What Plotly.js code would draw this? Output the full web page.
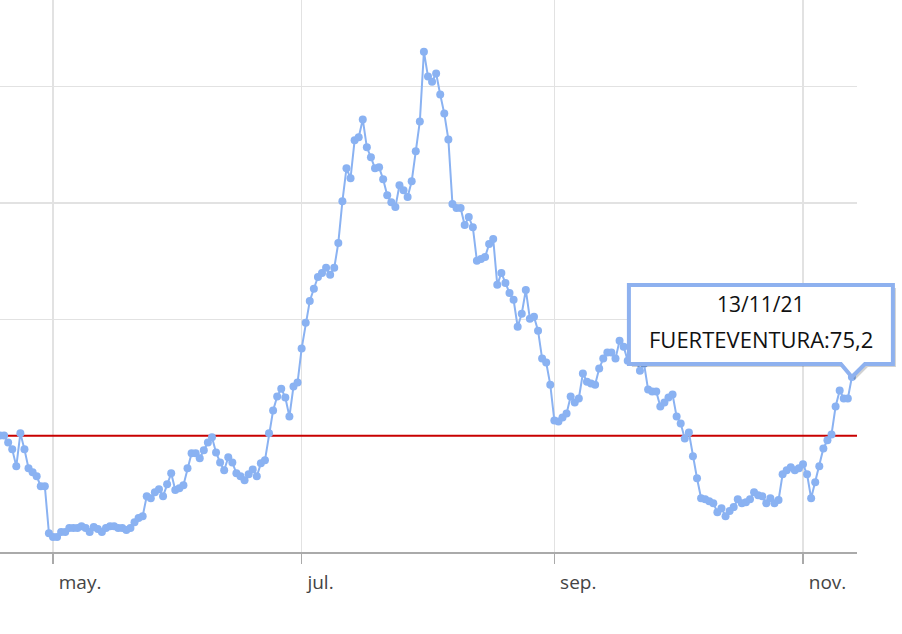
<!DOCTYPE html>
<html>
<head>
<meta charset="utf-8">
<script src="https://cdn.plot.ly/plotly-3.0.1.min.js"></script>
<style>
html, body { margin: 0; padding: 0; background: #ffffff; }
#chart { width: 902px; height: 634px; }
</style>
</head>
<body>
<div id="chart"></div>
<script>
// ---- data ----
const seriesName = 'FUERTEVENTURA';
const firstDay = [2021, 3, 18]; // 18 April 2021 (month is 0-based)
const aprValues = [50.1, 50.1, 47.1, 44.1, 36.8, 51.0, 44.1, 36.0, 34.3, 32.5, 28.3, 28.3, 8.1];
const mayValues = [6.4, 6.4, 8.6, 8.6, 10.3, 10.3, 10.3, 11.1, 10.3, 8.6, 10.7, 9.9, 8.6, 10.3, 11.1, 11.1,
                   10.3, 10.3, 9.4, 10.3, 12.8, 14.6, 15.4, 24.0, 23.1, 25.7, 27.0, 24.0, 29.1, 33.8, 26.6];
const junValues = [27.4, 28.7, 36.0, 42.4, 42.4, 40.3, 43.7, 47.1, 49.3, 42.8, 38.5, 35.1, 40.7, 38.5, 33.8,
                   32.5, 30.8, 33.4, 35.5, 32.5, 38.1, 39.4, 51.0, 60.8, 66.8, 70.2, 66.4, 58.2, 71.1, 72.8];
const julValues = [87.4, 98.5, 107.9, 113.1, 118.2, 119.9, 122.1, 119.1, 122.1, 132.8, 150.7, 164.9, 160.6,
                   176.9, 178.2, 185.9, 173.9, 169.6, 164.9, 165.3, 160.2, 153.3, 150.3, 148.2, 157.6, 155.5,
                   152.5, 159.3, 172.2, 185.0, 215.0];
const augValues = [204.3, 202.1, 205.6, 196.6, 188.4, 177.3, 149.5, 147.8, 147.8, 140.5, 143.9, 139.6, 125.1,
                   125.9, 126.8, 132.3, 134.5, 114.8, 119.9, 115.6, 111.3, 108.4, 96.8, 102.4, 112.6, 100.2,
                   101.1, 95.1, 83.1, 81.4, 71.9];
const sepValues = [56.5, 56.1, 57.8, 59.5, 66.8, 64.2, 66.0, 76.7, 73.2, 72.4, 71.9, 78.8, 83.1, 85.7, 85.7,
                   83.1, 90.8, 88.2, 82.2, 83.5, 83.1, 77.9, 80.9, 69.8, 69.0, 69.0, 62.5, 64.2, 66.4, 67.7];
const octValues = [58.2, 55.2, 48.8, 51.4, 41.1, 31.7, 23.1, 22.7, 21.8, 21.0, 17.1, 18.8, 15.4, 17.6, 19.3,
                   22.7, 21.0, 21.4, 22.7, 25.7, 24.4, 24.0, 21.0, 23.1, 21.0, 22.3, 33.4, 35.1, 36.4, 35.1, 36.0];
const novValues = [37.7, 33.4, 23.1, 30.0, 36.8, 44.5, 48.0, 50.5, 62.5, 69.4, 66.0, 66.0, 75.2];
const thresholdValue = 50;
const tickDates = ['2021-05-01', '2021-07-01', '2021-09-01', '2021-11-01'];
const tickLabels = ['may.', 'jul.', 'sep.', 'nov.'];

// ---- build series ----
const values = [].concat(aprValues, mayValues, junValues, julValues, augValues, sepValues, octValues, novValues);
const dates = values.map(function (_, i) {
  const d = new Date(Date.UTC(firstDay[0], firstDay[1], firstDay[2] + i));
  return d.toISOString().slice(0, 10);
});

const xRange = ['2021-04-18 00:00', '2021-11-14 06:00'];
const yRange = [0, 237.2];

const lastIdx = values.length - 1;
const lastDate = dates[lastIdx];
const lastValue = values[lastIdx];
const lastParts = lastDate.split('-');
const tipDate = lastParts[2] + '/' + lastParts[1] + '/' + lastParts[0].slice(2);
const tipValue = seriesName + ':' + lastValue.toFixed(1).replace('.', ',');

// anchor of the tooltip in axis-domain fractions (computed from the data and the ranges)
const t0 = Date.parse(xRange[0].replace(' ', 'T') + 'Z');
const t1 = Date.parse(xRange[1].replace(' ', 'T') + 'Z');
const tl = Date.parse(lastDate + 'T00:00Z');
const ax = (tl - t0) / (t1 - t0);
const ay = (lastValue - yRange[0]) / (yRange[1] - yRange[0]);

const lineColor = '#8ab2f2';
const tipPath = 'M -223,92 L 41,92 L 41,13 L 13,13 L 0,0 L -11,13 L -223,13 Z';
const shadowPath = 'M -220,89 L 44,89 L 44,10 L 16,10 L 3,-3 L -8,10 L -220,10 Z';

const thresholdTrace = {
  type: 'scatter',
  mode: 'lines',
  x: xRange,
  y: [thresholdValue, thresholdValue],
  line: { color: '#c80000', width: 2 },
  hoverinfo: 'skip'
};

const trace = {
  type: 'scatter',
  mode: 'lines+markers',
  x: dates,
  y: values,
  name: seriesName,
  line: { color: lineColor, width: 2 },
  marker: { color: lineColor, size: 8 },
  hoverinfo: 'skip'
};

const layout = {
  width: 902,
  height: 634,
  margin: { l: 0, r: 45, t: 0, b: 82, pad: 0 },
  paper_bgcolor: '#ffffff',
  plot_bgcolor: '#ffffff',
  showlegend: false,
  hovermode: false,
  font: { family: 'Open Sans, sans-serif', color: '#444444' },
  xaxis: {
    type: 'date',
    range: xRange,
    tickmode: 'array',
    tickvals: tickDates,
    ticktext: tickLabels,
    ticks: 'outside',
    ticklen: 10,
    tickwidth: 1.5,
    tickcolor: '#aaaaaa',
    ticklabelposition: 'outside right',
    ticklabelstandoff: 12,
    ticklabelshift: 4,
    tickfont: { family: 'Open Sans, sans-serif', size: 19, color: '#444444' },
    showgrid: true,
    gridcolor: '#e2e2e2',
    gridwidth: 1.5,
    showline: true,
    linecolor: '#aaaaaa',
    linewidth: 2,
    zeroline: false,
    fixedrange: true
  },
  yaxis: {
    range: yRange,
    tick0: 0,
    dtick: 50,
    showticklabels: false,
    ticks: '',
    showgrid: true,
    gridcolor: '#e2e2e2',
    gridwidth: 1.5,
    zeroline: false,
    showline: false,
    fixedrange: true
  },
  shapes: [
    {
      type: 'path', layer: 'above',
      xref: 'x domain', yref: 'y domain',
      xsizemode: 'pixel', ysizemode: 'pixel',
      xanchor: ax, yanchor: ay,
      path: shadowPath,
      fillcolor: 'rgba(0,0,0,0.18)',
      line: { width: 0 }
    },
    {
      type: 'path', layer: 'above',
      xref: 'x domain', yref: 'y domain',
      xsizemode: 'pixel', ysizemode: 'pixel',
      xanchor: ax, yanchor: ay,
      path: tipPath,
      fillcolor: '#ffffff',
      line: { color: '#8eb1ef', width: 4 }
    }
  ],
  annotations: [
    {
      xref: 'x', yref: 'y', x: lastDate, y: lastValue,
      xshift: -91, yshift: 73, showarrow: false,
      text: tipDate, xanchor: 'center', yanchor: 'middle',
      font: { family: 'Open Sans, sans-serif', size: 21, color: '#111111' }
    },
    {
      xref: 'x', yref: 'y', x: lastDate, y: lastValue,
      xshift: -91, yshift: 38, showarrow: false,
      text: tipValue, xanchor: 'center', yanchor: 'middle',
      font: { family: 'Open Sans, sans-serif', size: 22, color: '#111111' }
    }
  ]
};

Plotly.newPlot('chart', [thresholdTrace, trace], layout, { displayModeBar: false, staticPlot: true });
</script>
</body>
</html>
